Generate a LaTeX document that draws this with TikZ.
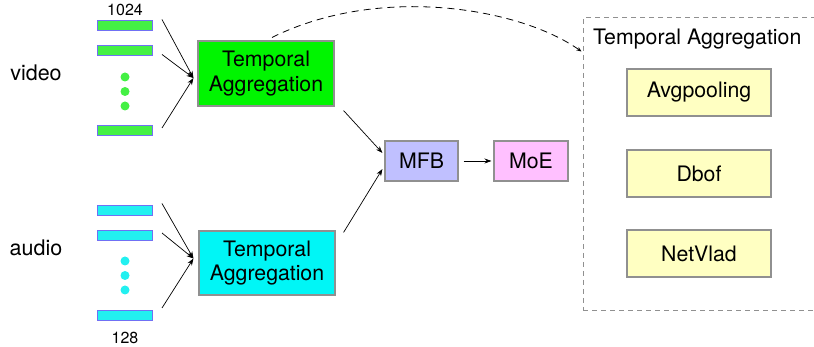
\documentclass[tikz,border=0pt]{standalone}
\usepackage{fontspec}
\setmainfont{TeX Gyre Heros}
\usetikzlibrary{arrows.meta,calc}

\definecolor{boxgreen}{HTML}{00F500}
\definecolor{bargreen}{HTML}{44F044}
\definecolor{boxcyan}{HTML}{00F6F6}
\definecolor{barcyan}{HTML}{22F0F0}
\definecolor{barline}{HTML}{7070F4}
\definecolor{mfbfill}{HTML}{C0C0FF}
\definecolor{moefill}{HTML}{FFC0FF}
\definecolor{aggfill}{HTML}{FFFFC2}
\definecolor{edge}{HTML}{909090}

\tikzset{
  box/.style={draw=edge, line width=1.1pt, inner sep=0pt, align=center,
    font=\fontsize{21.3}{24.5}\selectfont},
  bar/.style={draw=barline, line width=1pt, minimum width=55pt, minimum height=10pt, inner sep=0pt},
  dotmark/.style={circle, inner sep=0pt, minimum size=9pt},
  feed/.style={-{Stealth[length=7pt,width=5pt]}, line width=0.7pt},
  side/.style={font=\fontsize{21.5}{24}\selectfont},
  dim/.style={font=\fontsize{16}{18}\selectfont},
}

\begin{document}
\begin{tikzpicture}[x=1pt,y=-1pt]
  \useasboundingbox (0,0) rectangle (814,347);

  % video branch
  \node[side] (video) at (36,73) {video};
  \node[dim] (d1024) at (125,10) {1024};
  \node[bar, fill=bargreen] (g1) at (125,26) {};
  \node[bar, fill=bargreen] (g2) at (125,50.5) {};
  \node[bar, fill=bargreen] (g3) at (125,131) {};
  \node[dotmark, fill=bargreen] (gd1) at (125,77) {};
  \node[dotmark, fill=bargreen] (gd2) at (125,91.5) {};
  \node[dotmark, fill=bargreen] (gd3) at (125,106) {};
  \node[box, fill=boxgreen, minimum width=136pt, minimum height=65pt] (tv) at (266,73.5) {Temporal\\Aggregation};

  % audio branch
  \node[side] (audio) at (36,248) {audio};
  \node[dim] (d128) at (125,338) {128};
  \node[bar, fill=barcyan] (c1) at (125,211) {};
  \node[bar, fill=barcyan] (c2) at (125,236) {};
  \node[bar, fill=barcyan] (c3) at (125,316) {};
  \node[dotmark, fill=barcyan] (cd1) at (125,261) {};
  \node[dotmark, fill=barcyan] (cd2) at (125,275.5) {};
  \node[dotmark, fill=barcyan] (cd3) at (125,290) {};
  \node[box, fill=boxcyan, minimum width=136pt, minimum height=64pt] (ta) at (267,263) {Temporal\\Aggregation};

  % fusion and classifier
  \node[box, fill=mfbfill, minimum width=73pt, minimum height=40pt] (mfb) at (421.5,161) {MFB};
  \node[box, fill=moefill, minimum width=74pt, minimum height=40pt] (moe) at (531,161) {MoE};

  % detail panel
  \node[draw=edge, dashed, dash pattern=on 5pt off 4pt, line width=1pt, minimum width=231pt, minimum height=293pt, inner sep=0pt] (panel) at (698.5,164.5) {};
  \node[font=\fontsize{21.3}{24}\selectfont, anchor=west, inner sep=0pt] (ptitle) at (593,39.5) {Temporal Aggregation};
  \node[box, fill=aggfill, minimum width=144pt, minimum height=47pt] (avg) at (699,92.5) {Avgpooling};
  \node[box, fill=aggfill, minimum width=144pt, minimum height=47pt] (dbof) at (699,173.5) {Dbof};
  \node[box, fill=aggfill, minimum width=144pt, minimum height=47pt] (vlad) at (699,253.5) {NetVlad};

  % inputs into the aggregation blocks
  \coordinate (tvin) at ($(tv.west)+(-4,4.5)$);
  \coordinate (tain) at ($(ta.west)+(-5,-4.5)$);
  \draw[feed] ($(g1.north east)+(9,-1)$) -- (tvin);
  \draw[feed] ($(g2.east)+(9,4)$) -- (tvin);
  \draw[feed] ($(g3.east)+(9,-3)$) -- (tvin);
  \draw[feed] ($(c1.north east)+(9,-2)$) -- (tain);
  \draw[feed] ($(c2.east)+(9,-3)$) -- (tain);
  \draw[feed] ($(c3.east)+(9,-8)$) -- (tain);

  % aggregation outputs into fusion
  \draw[feed] ($(tv.south east)+(9,4)$) -- ($(mfb.west)+(-2,-8)$);
  \draw[feed] ($(ta.north east)+(8,2)$) -- ($(mfb.west)+(-2,8)$);
  \draw[feed] ($(mfb.east)+(5,0)$) -- ($(moe.west)+(-2,0)$);

  % expansion of the aggregation block
  \draw[dashed, dash pattern=on 7pt off 5pt, line width=0.8pt, -{Stealth[length=5pt,width=4pt]}]
    ($(tv.north)+(6,-3)$) .. controls (380,-16) and (520,8) .. ($(panel.north west)+(-1,34)$);
\end{tikzpicture}
\end{document}
